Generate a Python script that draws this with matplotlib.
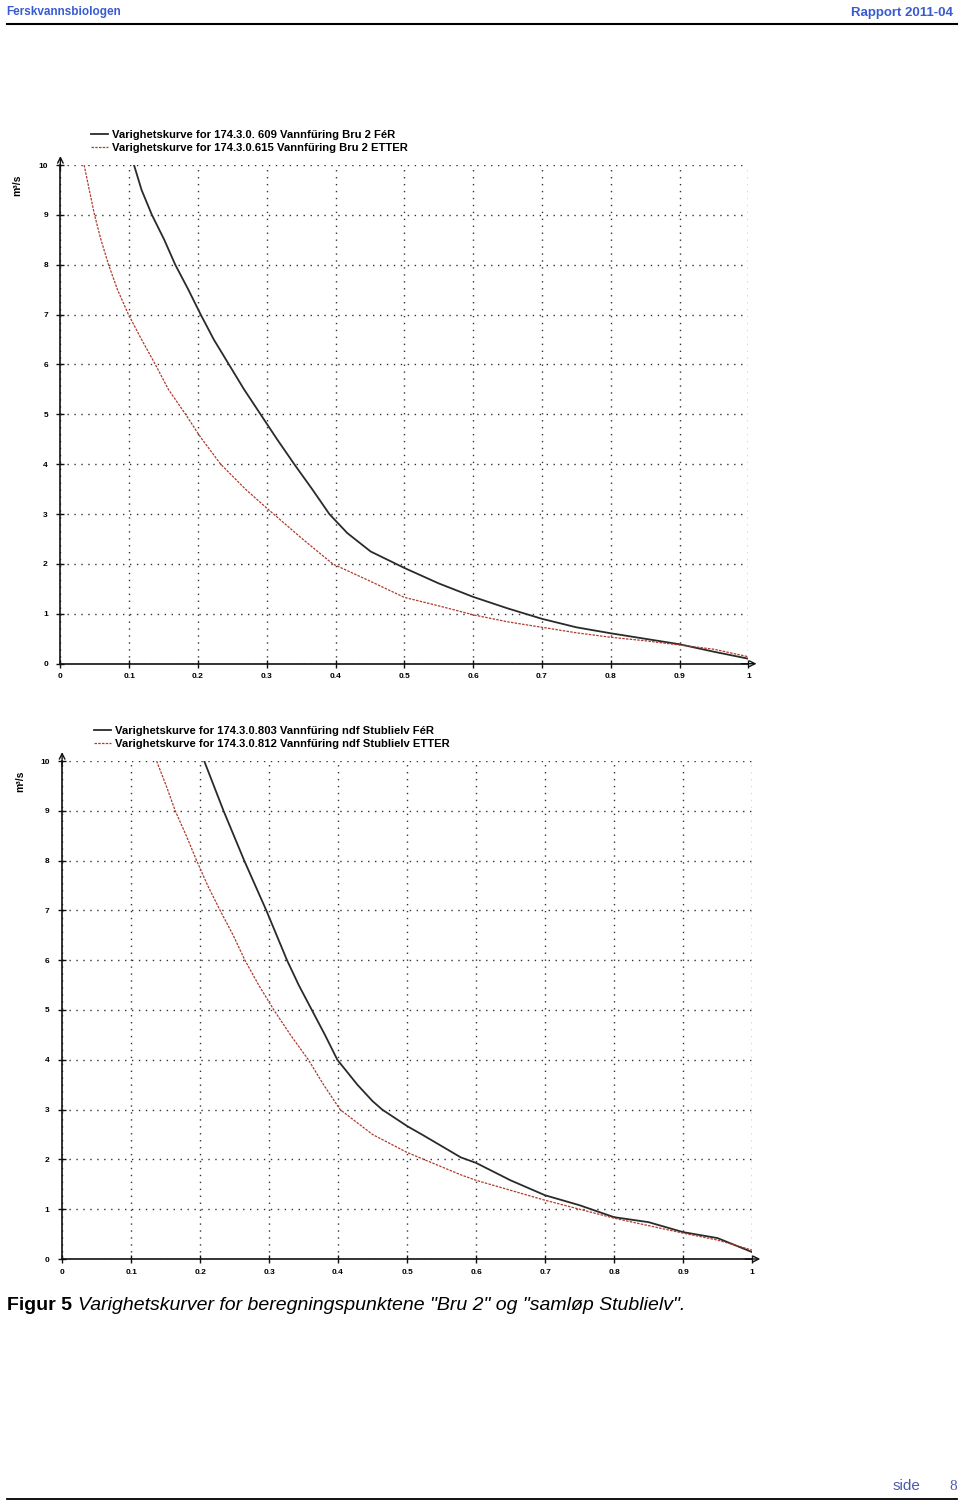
import matplotlib
matplotlib.use("Agg")
import matplotlib.pyplot as plt

# ---------------- data ----------------
top_for_x = [0.107, 0.118, 0.133, 0.151, 0.167, 0.186, 0.204, 0.223, 0.245, 0.267, 0.291, 0.315,
             0.340, 0.366, 0.391, 0.417, 0.451, 0.50, 0.55, 0.60,
             0.65, 0.70, 0.75, 0.80, 0.85, 0.90, 0.95, 1.00]
top_for_y = [10.0, 9.5, 9.0, 8.5, 8.0, 7.5, 7.0, 6.5, 6.0, 5.5, 5.0, 4.5,
             4.0, 3.5, 3.0, 2.62, 2.25, 1.92, 1.61, 1.34,
             1.11, 0.90, 0.73, 0.61, 0.50, 0.39, 0.24, 0.10]
top_etter_x = [0.0345, 0.042, 0.0496, 0.059, 0.070, 0.083, 0.099, 0.118, 0.138, 0.157, 0.182,
               0.200, 0.206, 0.233, 0.269, 0.300, 0.310, 0.352, 0.396, 0.451,
               0.50, 0.55, 0.60, 0.65, 0.70, 0.75, 0.80, 0.85, 0.90, 0.95, 1.00]
top_etter_y = [10.0, 9.5, 9.0, 8.5, 8.0, 7.5, 7.0, 6.5, 6.0, 5.5, 5.0,
               4.62, 4.5, 4.0, 3.5, 3.12, 3.0, 2.5, 2.0, 1.65,
               1.33, 1.16, 0.98, 0.84, 0.73, 0.62, 0.53, 0.46, 0.375, 0.29, 0.14]

bot_for_x = [0.206, 0.220, 0.234, 0.249, 0.264, 0.280, 0.296, 0.311, 0.326, 0.343, 0.362, 0.381,
             0.399, 0.428, 0.450, 0.464, 0.50, 0.524, 0.578, 0.60,
             0.65, 0.70, 0.75, 0.80, 0.85, 0.90, 0.95, 1.00]
bot_for_y = [10.0, 9.5, 9.0, 8.5, 8.0, 7.5, 7.0, 6.5, 6.0, 5.5, 5.0, 4.5,
             4.0, 3.5, 3.17, 3.0, 2.67, 2.48, 2.04, 1.93,
             1.58, 1.28, 1.08, 0.84, 0.74, 0.54, 0.42, 0.14]
bot_etter_x = [0.137, 0.151, 0.164, 0.180, 0.195, 0.211, 0.229, 0.248, 0.265, 0.285, 0.307, 0.331,
               0.357, 0.379, 0.403, 0.450, 0.50, 0.578, 0.60,
               0.65, 0.70, 0.75, 0.80, 0.85, 0.90, 0.95, 1.00]
bot_etter_y = [10.0, 9.5, 9.0, 8.5, 8.0, 7.5, 7.0, 6.5, 6.0, 5.5, 5.0, 4.5,
               4.0, 3.5, 3.0, 2.50, 2.14, 1.69, 1.58,
               1.38, 1.18, 1.00, 0.82, 0.67, 0.52, 0.38, 0.18]

x_ticks = [0, 0.1, 0.2, 0.3, 0.4, 0.5, 0.6, 0.7, 0.8, 0.9, 1]
x_ticklabels = ["0", "0.1", "0.2", "0.3", "0.4", "0.5", "0.6", "0.7", "0.8", "0.9", "1"]
y_ticks = [0, 1, 2, 3, 4, 5, 6, 7, 8, 9, 10]
y_ticklabels = ["0", "1", "2", "3", "4", "5", "6", "7", "8", "9", "10"]

top_labels = ["Varighetskurve for 174.3.0. 609 Vannfűring Bru 2 FéR",
              "Varighetskurve for 174.3.0.615 Vannfűring Bru 2 ETTER"]
bot_labels = ["Varighetskurve for 174.3.0.803 Vannfűring ndf Stublielv FéR",
              "Varighetskurve for 174.3.0.812 Vannfűring ndf Stublielv ETTER"]
y_unit = "m³/s"

header_left = "Ferskvannsbiologen"
header_right = "Rapport 2011-04"
caption_bold = "Figur 5"
caption_italic = "Varighetskurver for beregningspunktene \"Bru 2\" og \"samløp Stublielv\"."
footer_word = "side"
footer_num = "8"

# ---------------- figure ----------------
plt.rcParams['font.family'] = ['Liberation Sans', 'DejaVu Sans']
W, H = 960, 1502
fig = plt.figure(figsize=(W / 100, H / 100), dpi=100)
fig.patch.set_facecolor("white")

BLUE = "#3a5bd0"


def make_axes(rect, fx, fy, ex, ey, labels, legend_xy, unit_xy):
    ax = fig.add_axes(rect)
    ax.set_xlim(0, 1)
    ax.set_ylim(0, 10)
    for s in ("top", "right"):
        ax.spines[s].set_visible(False)
    for s in ("left", "bottom"):
        ax.spines[s].set_linewidth(1.2)
        ax.spines[s].set_color("#111111")
    ax.set_xticks(x_ticks)
    ax.set_xticklabels(x_ticklabels, fontsize=6, fontweight="bold")
    ax.set_yticks(y_ticks)
    ax.set_yticklabels(y_ticklabels, fontsize=6, fontweight="bold")
    ax.tick_params(axis="both", direction="inout", length=6, width=1.0, color="#111111")
    ax.tick_params(axis="x", pad=4)
    ax.tick_params(axis="y", pad=6)
    ax.grid(True, color="#333333", linestyle=(0, (1, 4)), linewidth=1.0)
    ax.set_axisbelow(True)
    l1, = ax.plot(fx, fy, color="#2a2a2a", linewidth=1.3, label=labels[0], zorder=3)
    l2, = ax.plot(ex, ey, color="#b03a2e", linewidth=0.9, linestyle=(0, (2, 1)),
                  label=labels[1], zorder=3)
    # axis arrows
    ax.annotate("", xy=(0, 1.018), xytext=(0, 0.99), xycoords="axes fraction",
                arrowprops=dict(arrowstyle="->", color="#111111", lw=1.0,
                                shrinkA=0, shrinkB=0), annotation_clip=False)
    ax.annotate("", xy=(1.012, 0), xytext=(0.99, 0), xycoords="axes fraction",
                arrowprops=dict(arrowstyle="->", color="#111111", lw=1.0,
                                shrinkA=0, shrinkB=0), annotation_clip=False)
    fig.legend(handles=[l1, l2], loc="upper left",
               bbox_to_anchor=(legend_xy[0] / W, 1 - legend_xy[1] / H),
               frameon=False, borderaxespad=0, borderpad=0,
               handlelength=1.55, handletextpad=0.35, labelspacing=0.25,
               prop=dict(family=['Liberation Sans', 'DejaVu Sans'], weight="bold", size=8.1))
    fig.text(unit_xy[0] / W, 1 - unit_xy[1] / H, y_unit, rotation=90, fontsize=7.5,
             fontweight="bold", ha="center", va="center")
    return ax


# top chart
make_axes([60.4 / W, 1 - 663.7 / H, 687.9 / W, (663.7 - 165) / H],
          top_for_x, top_for_y, top_etter_x, top_etter_y, top_labels,
          (91, 130), (17, 185))
# bottom chart
make_axes([62.1 / W, 1 - 1259 / H, 689.9 / W, (1259 - 761) / H],
          bot_for_x, bot_for_y, bot_etter_x, bot_etter_y, bot_labels,
          (94, 726), (20, 781))

# header
fig.text(6 / W, 1 - 12 / H, header_left, fontsize=8.5, fontweight="bold", color=BLUE,
         ha="left", va="center")
fig.text(953 / W, 1 - 13 / H, header_right, fontsize=9.5, fontweight="bold", color=BLUE,
         ha="right", va="center")
fig.add_artist(plt.Line2D([7 / W, 957 / W], [1 - 24 / H, 1 - 24 / H], color="black",
                          linewidth=1.5))

# caption
t1 = fig.text(7 / W, 1 - 1306 / H, caption_bold, fontsize=14, fontweight="bold",
              ha="left", va="center")
fig.canvas.draw()
bb = t1.get_window_extent()
fig.text((bb.x1 + 6) / W, 1 - 1306 / H, caption_italic, fontsize=14, style="italic",
         ha="left", va="center")

# footer
fig.text(893 / W, 1 - 1486 / H, footer_word, fontsize=11, color="#4a5ab0", ha="left",
         va="center")
fig.text(957 / W, 1 - 1486 / H, footer_num, fontsize=11, color="#4a5ab0", ha="right",
         va="center", family=['Liberation Serif', 'DejaVu Serif'])
fig.add_artist(plt.Line2D([7 / W, 957 / W], [1 - 1499 / H, 1 - 1499 / H], color="black",
                          linewidth=1.3))

fig.savefig("out.png", dpi=100, facecolor="white")
